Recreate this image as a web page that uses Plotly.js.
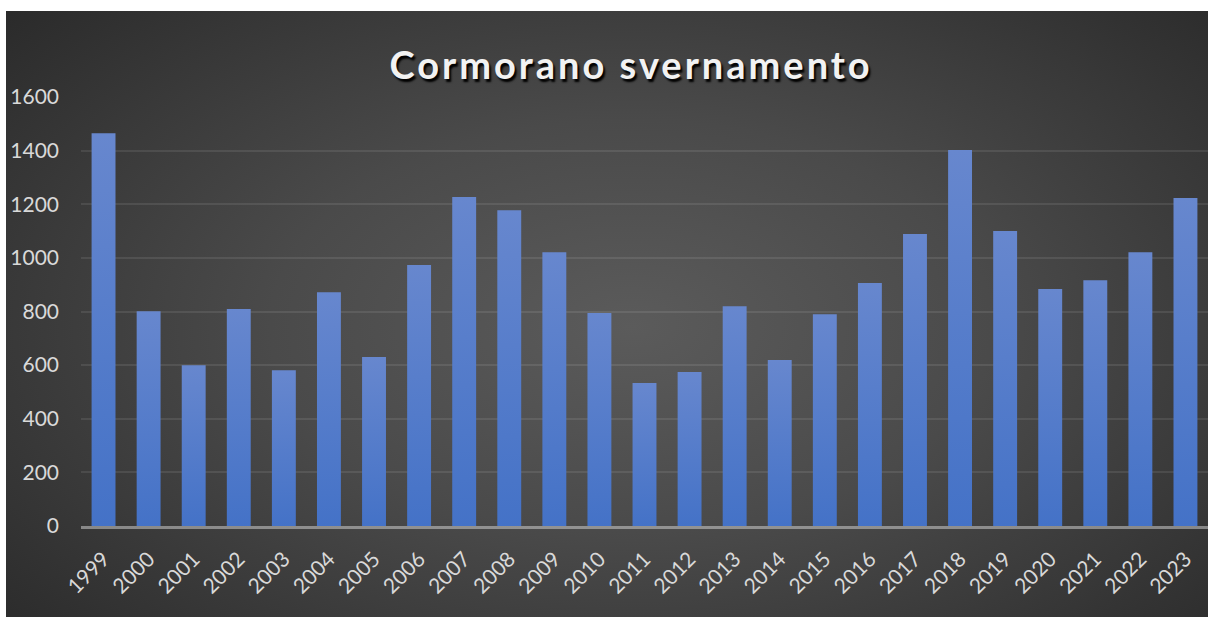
<!DOCTYPE html>
<html><head><meta charset="utf-8">
<title>Cormorano svernamento</title>
<script src="https://cdn.plot.ly/plotly-3.0.1.min.js"></script>
<style>
html, body { margin: 0; padding: 0; background: #fff; }
#frame {
  position: absolute; left: 6px; top: 11px; width: 1202px; height: 606px;
  background: radial-gradient(ellipse 75% 85% at 52% 52%, #5b5b5b 0%, #4a4a4a 40%, #262626 100%);
}
#chart { width: 1202px; height: 606px; }
.gtitle { letter-spacing: 3px; }
</style></head><body>
<div id="frame"><div id="chart"></div></div>
<script>
// winter counts
const years = ['1999', '2000', '2001', '2002', '2003', '2004', '2005', '2006', '2007', '2008',
  '2009', '2010', '2011', '2012', '2013', '2014', '2015', '2016', '2017', '2018',
  '2019', '2020', '2021', '2022', '2023'];
const counts = [1465, 801, 600, 809, 581, 872, 630, 973, 1227, 1178,
  1021, 794, 533, 574, 820, 619, 790, 906, 1089, 1402,
  1100, 884, 917, 1021, 1223];
const yTicks = [0, 200, 400, 600, 800, 1000, 1200, 1400, 1600];

const font = 'Lato, "Open Sans", sans-serif';

Plotly.newPlot('chart', [{
  type: 'bar',
  x: years,
  y: counts,
  marker: { color: '#5579c9', line: { width: 0 } },
  hoverinfo: 'x+y'
}], {
  width: 1202, height: 606,
  paper_bgcolor: 'rgba(0,0,0,0)',
  plot_bgcolor: 'rgba(0,0,0,0)',
  margin: { l: 75, r: 0, t: 86, b: 91 },
  bargap: 0.47,
  showlegend: false,
  title: {
    text: 'Cormorano svernamento',
    x: 0.52, xanchor: 'center', xref: 'container',
    y: 0.91, yanchor: 'middle', yref: 'container',
    font: { family: font, size: 38, color: '#f2f2f2', weight: 700,
      shadow: '2px 3px 2px #000' }
  },
  xaxis: {
    type: 'category',
    tickangle: -45,
    tickfont: { family: font, size: 21, color: '#d9d9d9' },
    showgrid: false,
    showline: true, linecolor: 'rgba(217,217,217,0.5)', linewidth: 2.5,
    layer: 'above traces',
    ticks: '', ticklabelstandoff: 10,
    fixedrange: true
  },
  yaxis: {
    range: [0, 1600],
    tickvals: yTicks,
    tickfont: { family: font, size: 21, color: '#d9d9d9' },
    gridcolor: 'rgba(255,255,255,0.09)', gridwidth: 2,
    zeroline: false,
    showline: false,
    ticks: '', ticklabelstandoff: 21,
    fixedrange: true
  }
}, { displayModeBar: false, staticPlot: true }).then(function (gd) {
  // Excel-like vertical gradient on each bar
  const svg = gd.querySelector('svg.main-svg');
  const ns = 'http://www.w3.org/2000/svg';
  let defs = svg.querySelector('defs');
  if (!defs) { defs = document.createElementNS(ns, 'defs'); svg.insertBefore(defs, svg.firstChild); }
  const grad = document.createElementNS(ns, 'linearGradient');
  grad.setAttribute('id', 'barGrad');
  grad.setAttribute('x1', '0'); grad.setAttribute('y1', '0');
  grad.setAttribute('x2', '0'); grad.setAttribute('y2', '1');
  [['0%', '#6787ce'], ['100%', '#4472c7']].forEach(function (s) {
    const stop = document.createElementNS(ns, 'stop');
    stop.setAttribute('offset', s[0]);
    stop.setAttribute('stop-color', s[1]);
    grad.appendChild(stop);
  });
  defs.appendChild(grad);
  gd.querySelectorAll('.bars .point path').forEach(function (p) {
    p.style.fill = 'url(#barGrad)';
  });
});
</script>
</body></html>
